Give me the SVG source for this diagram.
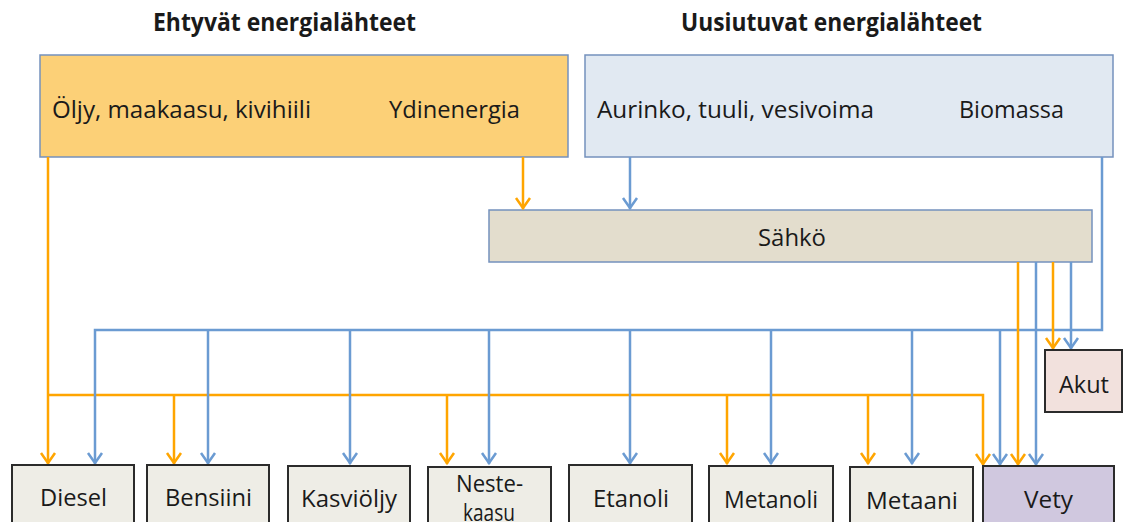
<svg xmlns="http://www.w3.org/2000/svg" width="1123" height="522" viewBox="0 0 1123 522">
<style>
text{font-family:"Open Sans","Liberation Sans",sans-serif;fill:#1a1a1a}
.title{font-size:25px;font-weight:bold}
.lbl{font-size:24px}
.top{stroke:#7491bd;stroke-width:1.5}
.fuel{fill:#eeede6;stroke:#2b2b2b;stroke-width:2}
.or{fill:none;stroke:#ffa500;stroke-width:2.5;marker-end:url(#ao)}
.bl{fill:none;stroke:#6b9bd2;stroke-width:2.5;marker-end:url(#ab)}
</style>
<defs>
<marker id="ao" markerUnits="userSpaceOnUse" markerWidth="20" markerHeight="20" viewBox="-12 -10 14 20" refX="0" refY="0" orient="auto" overflow="visible">
<path d="M-11,-7 L-1,0 L-11,7" fill="none" stroke="#ffa500" stroke-width="2.5"/>
</marker>
<marker id="ab" markerUnits="userSpaceOnUse" markerWidth="20" markerHeight="20" viewBox="-12 -10 14 20" refX="0" refY="0" orient="auto" overflow="visible">
<path d="M-11,-7 L-1,0 L-11,7" fill="none" stroke="#6b9bd2" stroke-width="2.5"/>
</marker>
</defs>
<rect width="1123" height="522" fill="#ffffff"/>
<text class="title" x="153" y="31" textLength="263" lengthAdjust="spacingAndGlyphs">Ehtyvät energialähteet</text>
<text class="title" x="681" y="31" textLength="301" lengthAdjust="spacingAndGlyphs">Uusiutuvat energialähteet</text>

<g id="ehtyvat">
<rect class="top" x="40" y="55" width="528" height="102" fill="#fcd077"/>
<text class="lbl" x="52" y="118" textLength="259" lengthAdjust="spacingAndGlyphs">Öljy, maakaasu, kivihiili</text>
<text class="lbl" x="389" y="118" textLength="131" lengthAdjust="spacingAndGlyphs">Ydinenergia</text>
</g>
<g id="uusiutuvat">
<rect class="top" x="585" y="55" width="528" height="102" fill="#e1e9f2"/>
<text class="lbl" x="597" y="118" textLength="277" lengthAdjust="spacingAndGlyphs">Aurinko, tuuli, vesivoima</text>
<text class="lbl" x="959" y="118" textLength="105" lengthAdjust="spacingAndGlyphs">Biomassa</text>
</g>
<g id="sahko">
<rect class="top" x="489" y="210" width="603" height="52" fill="#e3ddcd"/>
<text class="lbl" x="758" y="246" textLength="68" lengthAdjust="spacingAndGlyphs">Sähkö</text>
</g>

<g id="connectors">
<path class="or" d="M48,157 V464"/>
<path class="or" d="M48,395 H983 V465"/>
<path class="or" d="M174,395 V464"/>
<path class="or" d="M447,395 V464"/>
<path class="or" d="M727,395 V464"/>
<path class="or" d="M868,395 V464"/>
<path class="or" d="M523,157 V209"/>
<path class="bl" d="M630,157 V209"/>
<path class="bl" d="M1102,157 V330 H95 V464"/>
<path class="bl" d="M208,330 V464"/>
<path class="bl" d="M350,330 V464"/>
<path class="bl" d="M489,330 V464"/>
<path class="bl" d="M630,330 V464"/>
<path class="bl" d="M771,330 V464"/>
<path class="bl" d="M912,330 V464"/>
<path class="bl" d="M1000,330 V465"/>
<path class="or" d="M1018,262 V465"/>
<path class="bl" d="M1036,262 V465"/>
<path class="or" d="M1053,262 V349"/>
<path class="bl" d="M1071,262 V349"/>
</g>

<g id="akut">
<rect x="1045" y="350" width="77" height="62" fill="#f2e1dd" stroke="#2b2b2b" stroke-width="2"/>
<text class="lbl" x="1059" y="393" textLength="50" lengthAdjust="spacingAndGlyphs">Akut</text>
</g>
<g id="diesel">
<rect class="fuel" x="12" y="465" width="122" height="70"/>
<text class="lbl" x="40" y="506" textLength="67" lengthAdjust="spacingAndGlyphs">Diesel</text>
</g>
<g id="bensiini">
<rect class="fuel" x="147" y="465" width="122" height="70"/>
<text class="lbl" x="165" y="506" textLength="87" lengthAdjust="spacingAndGlyphs">Bensiini</text>
</g>
<g id="kasvioljy">
<rect class="fuel" x="288" y="466" width="122" height="70"/>
<text class="lbl" x="301" y="507" textLength="96" lengthAdjust="spacingAndGlyphs">Kasviöljy</text>
</g>
<g id="nestekaasu">
<rect class="fuel" x="428" y="467" width="123" height="70"/>
<text class="lbl" x="456" y="492" textLength="67" lengthAdjust="spacingAndGlyphs">Neste-</text>
<text class="lbl" x="463" y="521" textLength="52" lengthAdjust="spacingAndGlyphs">kaasu</text>
</g>
<g id="etanoli">
<rect class="fuel" x="569" y="465" width="123" height="70"/>
<text class="lbl" x="593" y="507" textLength="76" lengthAdjust="spacingAndGlyphs">Etanoli</text>
</g>
<g id="metanoli">
<rect class="fuel" x="709" y="466" width="124" height="70"/>
<text class="lbl" x="724" y="508" textLength="94" lengthAdjust="spacingAndGlyphs">Metanoli</text>
</g>
<g id="metaani">
<rect class="fuel" x="850" y="467" width="123" height="70"/>
<text class="lbl" x="866" y="509" textLength="92" lengthAdjust="spacingAndGlyphs">Metaani</text>
</g>
<g id="vety">
<rect x="983" y="466" width="131" height="70" fill="#d0c8df" stroke="#2b2b2b" stroke-width="2"/>
<text class="lbl" x="1024" y="508" textLength="49" lengthAdjust="spacingAndGlyphs">Vety</text>
</g>
</svg>
